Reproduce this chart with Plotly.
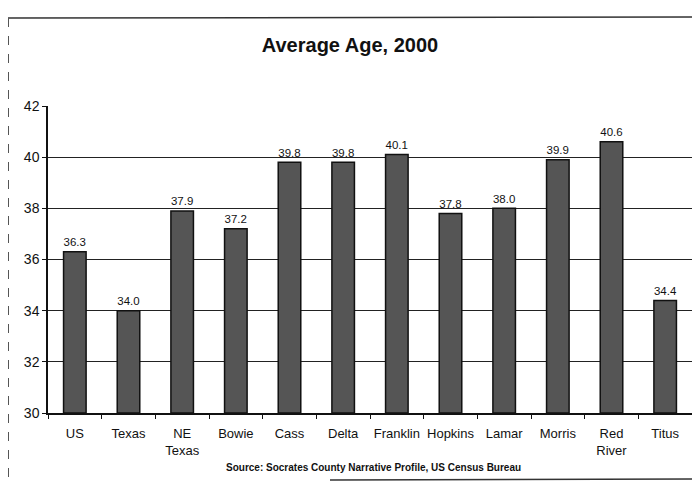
import plotly.graph_objects as go

categories = ["US", "Texas", "NE<br>Texas", "Bowie", "Cass", "Delta", "Franklin",
              "Hopkins", "Lamar", "Morris", "Red<br>River", "Titus"]
values = [36.3, 34.0, 37.9, 37.2, 39.8, 39.8, 40.1, 37.8, 38.0, 39.9, 40.6, 34.4]
labels = ["36.3", "34.0", "37.9", "37.2", "39.8", "39.8", "40.1", "37.8", "38.0", "39.9", "40.6", "34.4"]
y_ticks = [30, 32, 34, 36, 38, 40, 42]
y_base = 30

W, H = 692, 482
L, R, T = 48, 0, 106
B = H - 413
pw, ph = W - L - R, H - T - B
cat_px = 644 / 12.0  # pixel width of one category in the reference

def px(x):
    return (x - L) / pw

def py(y):
    return (H - B - y) / ph

FONT = "Arial, Liberation Sans"

fig = go.Figure(go.Bar(
    x=categories, y=[v - y_base for v in values], base=y_base,
    text=labels, textposition="outside", cliponaxis=False,
    textfont=dict(family=FONT, size=14, color="#111"),
    marker=dict(color="#555555", line=dict(color="#111111", width=1.5)),
    width=0.42, hoverinfo="skip",
))

fig.update_layout(
    width=W, height=H,
    margin=dict(l=L, r=R, t=T, b=B),
    paper_bgcolor="white", plot_bgcolor="white",
    showlegend=False,
    title=dict(text="<b>Average Age, 2000</b>", x=px(350), xref="paper", xanchor="center",
               y=1 - 45 / H, yanchor="middle",
               font=dict(family=FONT, size=20, color="#111")),
    font=dict(family=FONT, color="#111"),
)
fig.update_yaxes(range=[30, 42], tickvals=y_ticks, showgrid=True, gridcolor="#222", gridwidth=1,
                 showline=True, linecolor="#111", linewidth=1.5, ticks="outside", ticklen=4,
                 tickcolor="#111", tickfont=dict(size=14, family=FONT, color="#111"),
                 zeroline=False)
fig.update_xaxes(range=[-0.5, -0.5 + pw / cat_px], showline=True, linecolor="#111", linewidth=1.5,
                 ticks="outside", ticklen=4, tickson="boundaries", tickcolor="#111", tickangle=0,
                 ticklabelstandoff=8,
                 tickfont=dict(size=13, family=FONT, color="#111"))

# outer frame of the scanned chart
fig.add_shape(type="line", xref="paper", yref="paper", x0=px(8), x1=px(692), y0=py(18), y1=py(17),
              line=dict(color="#333", width=1.5))
fig.add_shape(type="line", xref="paper", yref="paper", x0=px(8.5), x1=px(8.5), y0=py(18), y1=py(482),
              line=dict(color="#555", width=1, dash="dash"))
fig.add_shape(type="line", xref="paper", yref="paper", x0=px(330), x1=px(692), y0=py(480), y1=py(479),
              line=dict(color="#333", width=1.5))

fig.add_annotation(text="<b>Source: Socrates County Narrative Profile, US Census Bureau</b>",
                   xref="paper", yref="paper", x=px(373), y=py(467), xanchor="center", yanchor="middle",
                   showarrow=False, font=dict(size=10, family=FONT, color="#111"))

fig.write_html("out.html", config={"displayModeBar": False},
               post_script="document.body.style.margin='0';document.body.style.overflow='hidden';")
